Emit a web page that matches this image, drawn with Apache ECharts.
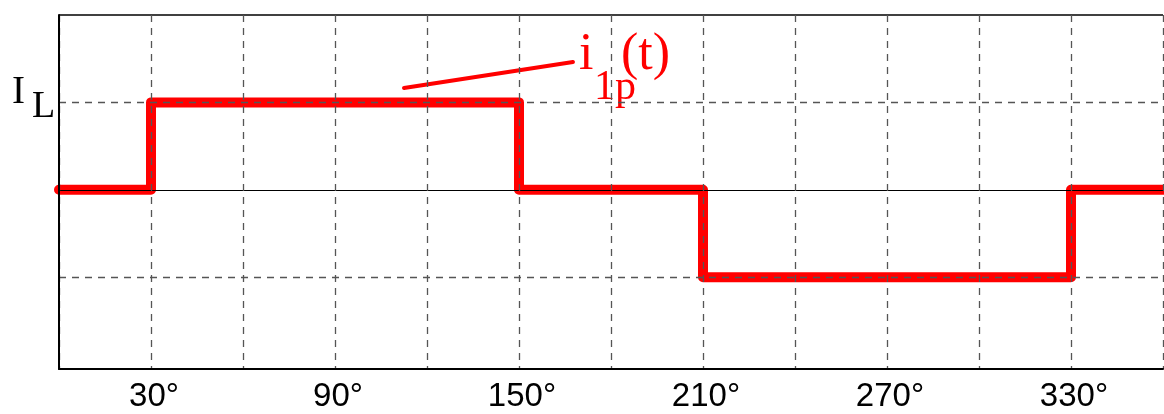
<!DOCTYPE html>
<html>
<head>
<meta charset="utf-8">
<script src="https://cdn.jsdelivr.net/npm/echarts@6/dist/echarts.min.js"></script>
<style>
html,body{margin:0;padding:0;background:#fff;}
#c{width:1164px;height:414px;}
</style>
</head>
<body>
<div id="c"></div>
<script>
// Angle breakpoints (degrees) and the current level from each breakpoint on (units of I_L)
var breakAngles = [0, 30, 150, 210, 330, 360];
var levels      = [0, 1, 0, -1, 0, 0];
// x tick labels shown (gridlines every 30°)
var xLabelValues = [30, 90, 150, 210, 270, 330];
var xLabels      = ['30°', '90°', '150°', '210°', '270°', '330°'];
// horizontal reference levels
var dashedLevels = [1, -1];
var solidLevels  = [0, 2];
// annotation pointer for i_1p(t): [angle, level]
var pointerStart = [112.5, 1.165];
var pointerEnd   = [167.6, 1.462];

var stepData = breakAngles.map(function (a, i) { return [a, levels[i]]; });

var chart = echarts.init(document.getElementById('c'), null, {renderer: 'canvas'});

var hLines = [];
dashedLevels.forEach(function (v) {
  hLines.push({yAxis: v, lineStyle: {type: [7, 6], color: '#555', width: 1.3}});
});
solidLevels.forEach(function (v) {
  hLines.push({yAxis: v, lineStyle: {type: 'solid', color: '#000', width: v === 0 ? 1 : 1.6}});
});

chart.setOption({
  animation: false,
  backgroundColor: '#fff',
  grid: {left: 59, right: 1, top: 15, bottom: 45, containLabel: false},
  xAxis: {
    type: 'value', min: 0, max: 360, interval: 30, z: 10,
    axisLine: {show: true, onZero: false, lineStyle: {color: '#000', width: 2}},
    axisTick: {show: false},
    splitLine: {show: true, lineStyle: {type: [7, 6], color: '#555', width: 1.3}},
    axisLabel: {
      show: true, margin: 11, color: '#000', fontSize: 33,
      fontFamily: 'Liberation Sans, Arial, sans-serif',
      showMinLabel: false, showMaxLabel: false,
      padding: [0, 0, 0, 6],
      formatter: function (v) {
        var k = xLabelValues.indexOf(v);
        return k >= 0 ? xLabels[k] : '';
      }
    }
  },
  yAxis: {
    type: 'value', min: -2.05, max: 2, z: 10,
    axisLine: {show: true, onZero: false, lineStyle: {color: '#000', width: 2}},
    axisTick: {show: false},
    axisLabel: {show: false},
    splitLine: {show: false}
  },
  series: [
    {
      type: 'line', z: 1,
      data: [],
      markLine: {
        silent: true, symbol: 'none', z: 6,
        label: {show: false},
        data: hLines
      }
    },
    {
      type: 'line', z: 2,
      step: 'end',
      data: stepData,
      showSymbol: false,
      clip: false,
      lineStyle: {color: '#ff0000', width: 10, cap: 'round', join: 'round'},
      markLine: {
        silent: true, symbol: 'none', z: 7,
        label: {show: false},
        lineStyle: {color: '#ff0000', width: 4, type: 'solid', cap: 'round'},
        data: [[{coord: pointerStart}, {coord: pointerEnd}]]
      }
    }
  ],
  graphic: [
    {type: 'text', silent: true, x: 12, y: 93,
     style: {text: 'I', font: '39px "Liberation Serif", serif', fill: '#000', verticalAlign: 'middle', align: 'left'}},
    {type: 'text', silent: true, x: 32, y: 107,
     style: {text: 'L', font: '38px "Liberation Serif", serif', fill: '#000', verticalAlign: 'middle', align: 'left'}},
    {type: 'text', silent: true, x: 579, y: 55,
     style: {text: 'i', font: '52px "Liberation Serif", serif', fill: '#ff0000', verticalAlign: 'middle', align: 'left'}},
    {type: 'text', silent: true, x: 594, y: 88,
     style: {text: '1p', font: '42px "Liberation Serif", serif', fill: '#ff0000', verticalAlign: 'middle', align: 'left'}},
    {type: 'text', silent: true, x: 621, y: 55,
     style: {text: '(t)', font: '52px "Liberation Serif", serif', fill: '#ff0000', verticalAlign: 'middle', align: 'left'}}
  ]
});
</script>
</body>
</html>
